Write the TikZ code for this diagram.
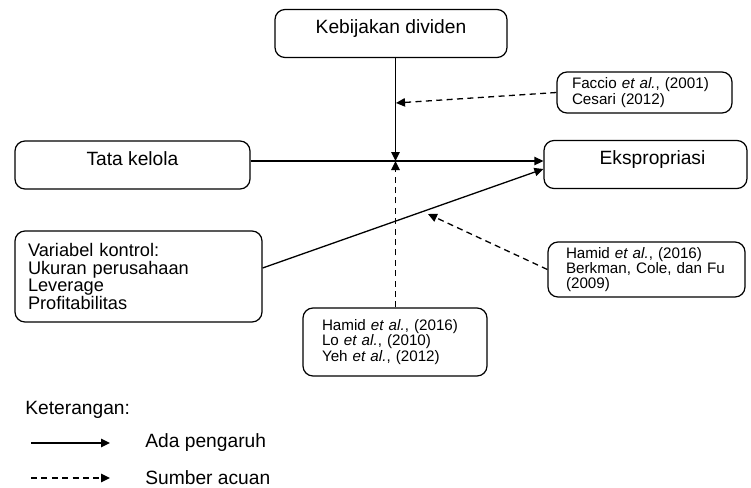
\documentclass[tikz,border=0pt]{standalone}
\usepackage{fontspec}
\setmainfont{Liberation Sans}
\usetikzlibrary{arrows.meta,positioning}

\begin{document}
\begin{tikzpicture}[x=0.5pt,y=-0.5pt,font=\fontsize{9.6}{11}\selectfont,mainbox/.style={draw,rounded corners=5pt,line width=0.6pt,inner sep=0pt,text height=12pt,text depth=12pt,align=center},refbox/.style={draw,rounded corners=5pt,line width=0.6pt,align=left,font=\fontsize{7.6}{7.6}\selectfont,inner ysep=2pt},arrow/.style={-{Triangle[length=4.5pt,width=4.2pt]},line width=0.65pt},dasharrow/.style={arrow,dash pattern=on 3pt off 2.2pt}]
\useasboundingbox (0,0) rectangle (751,488);
\node[mainbox,minimum width=116pt] (kebijakan) at (391,33.5){Kebijakan dividen};
\node[mainbox,minimum width=117.5pt] (tata) at (132.5,165){Tata kelola};
\node[mainbox,minimum width=101.5pt] (eksp) at (645.5,164.5){\hspace*{7pt}Ekspropriasi};
\node[refbox,inner xsep=7.5pt,text width=72.5pt,minimum height=20.5pt] (faccio) at (644.5,92.5){Faccio \textit{et al.}, (2001)\\Cesari (2012)};
\node[refbox,inner xsep=9pt,text width=80.5pt,minimum height=27.5pt] (hamidr) at (646.5,269.5){Hamid \textit{et al.}, (2016)\\Berkman, Cole, dan Fu\\(2009)};
\node[refbox,inner xsep=9.5pt,text width=73pt,minimum height=34pt] (hamidb) at (395,342){Hamid \textit{et al.}, (2016)\\Lo \textit{et al.}, (2010)\\Yeh \textit{et al.}, (2012)};
\node[refbox,font=\fontsize{9.1}{8.8}\selectfont,inner xsep=6.5pt,text width=110.5pt,minimum height=45.5pt] (kontrol) at (138.5,276.5){Variabel kontrol:\\Ukuran perusahaan\\Leverage\\Profitabilitas};
\coordinate (jn) at (395.5,161);
\coordinate (fa) at (396,103);
\coordinate (hr) at (428,214);
\draw[arrow] (kebijakan.south -| jn) -- (jn);
\draw[arrow] (tata.east |- jn) -- (eksp.west |- jn);
\draw[dasharrow] (hamidb.north -| jn) -- (jn);
\draw[dasharrow] (faccio.west) -- (fa);
\draw[arrow] ([yshift=4.25pt]kontrol.east) -- ([yshift=-2.25pt]eksp.west);
\draw[dasharrow] (hamidr.west) -- (hr);
% keterangan
\node[anchor=west,inner sep=0pt] (ket) at (25,410){Keterangan:};
\coordinate (solida) at (31,443);\coordinate (solidb) at (110,443);
\draw[arrow] (solida) -- (solidb);
\node[right=17.5pt of solidb,inner sep=0pt] (ada){Ada pengaruh};
\coordinate (dasha) at (31,478);\coordinate (dashb) at (110,478);
\draw[dasharrow] (dasha) -- (dashb);
\node[right=17.5pt of dashb,inner sep=0pt] (sumber){Sumber acuan};
\end{tikzpicture}
\end{document}
